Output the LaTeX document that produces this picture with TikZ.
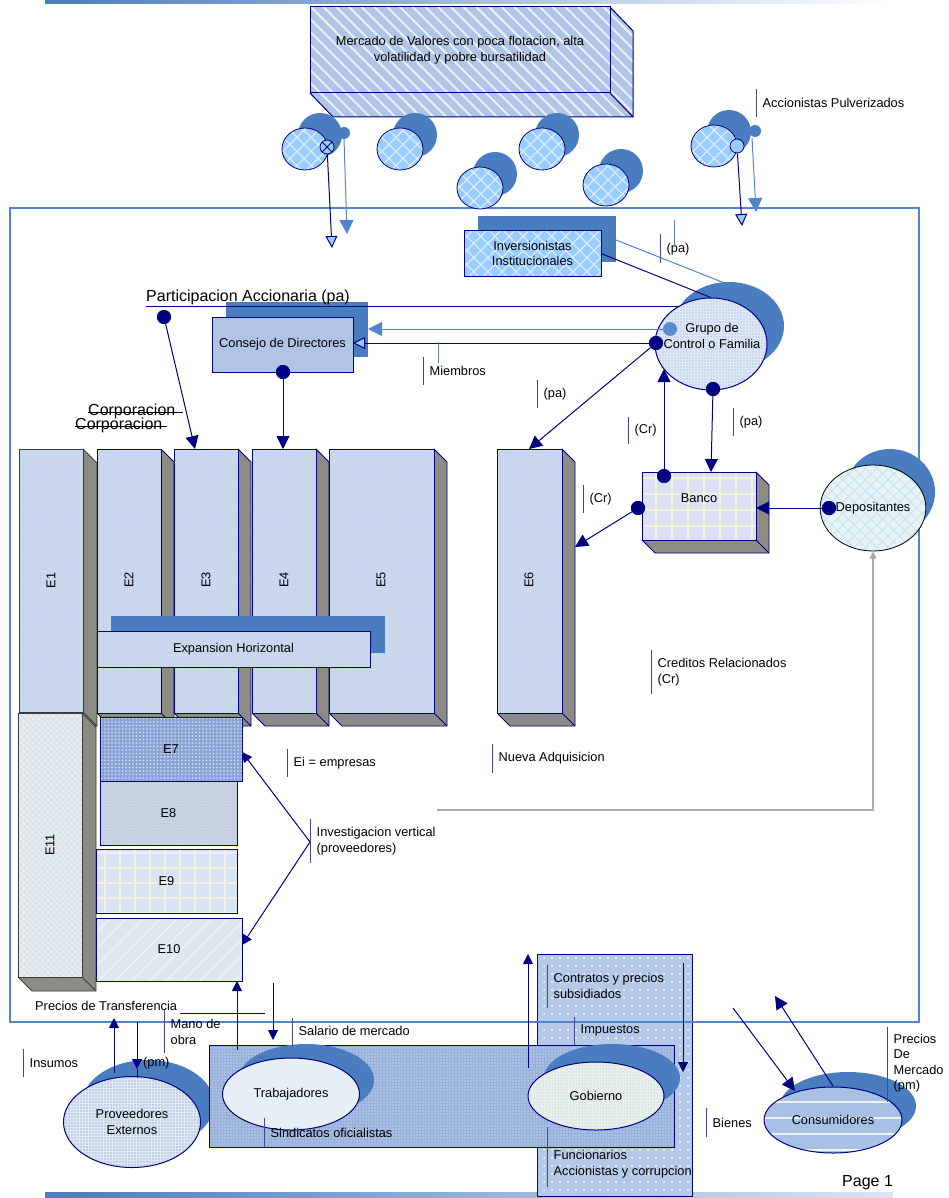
\documentclass[tikz,border=0pt]{standalone}
\usepackage{fontspec}
\setmainfont{Liberation Sans}
\usetikzlibrary{arrows.meta,patterns.meta,shapes.geometric}
\definecolor{navy}{RGB}{0,0,128}
\definecolor{blobblue}{RGB}{74,124,192}
\definecolor{frameblue}{RGB}{84,132,204}
\definecolor{lightarr}{RGB}{84,132,204}
\definecolor{lightdot}{RGB}{90,140,210}
\definecolor{iconfill}{RGB}{153,204,255}
\definecolor{steel}{RGB}{176,196,230}
\definecolor{eboxfill}{RGB}{198,212,236}
\definecolor{sidegrey}{RGB}{140,140,132}
\definecolor{eseven}{RGB}{138,164,214}
\definecolor{eeight}{RGB}{196,208,226}
\definecolor{enine}{RGB}{218,226,244}
\definecolor{cream}{RGB}{242,242,222}
\definecolor{eten}{RGB}{222,232,236}
\definecolor{eeleven}{RGB}{220,228,234}
\definecolor{bancofill}{RGB}{220,226,244}
\definecolor{grupofill}{RGB}{222,232,246}
\definecolor{depofill}{RGB}{230,244,250}
\definecolor{provfill}{RGB}{222,232,242}
\definecolor{paleell}{RGB}{232,238,246}
\definecolor{gobfill}{RGB}{232,240,238}
\definecolor{densefill}{RGB}{150,176,218}
\definecolor{tallfill}{RGB}{180,200,232}
\definecolor{consfill}{RGB}{168,192,228}
\definecolor{barA}{RGB}{70,70,150}
\definecolor{barB}{RGB}{80,80,80}
\definecolor{greyarr}{RGB}{170,170,170}
\definecolor{darkout}{RGB}{60,60,60}

\newcommand\RectNode[7]{%
  \pgfmathsetmacro\rnw{#4-#2}%
  \pgfmathsetmacro\rnh{#5-#3}%
  \node[#6, minimum width=\rnw pt, minimum height=\rnh pt, inner sep=0pt, outer sep=0pt] (#1) at ({(#2+#4)/2},{(#3+#5)/2}) {#7};}
\newcommand\SideFaces[6]{%
  \filldraw[fill=sidegrey, draw=#6, line width=0.8pt, line join=round] (#3,#2) -- ({#3+#5},{#2+#5}) -- ({#3+#5},{#4+#5}) -- ({#1+#5},{#4+#5}) -- (#1,#4) -- (#3,#4) -- cycle;
  \draw[#6, line width=0.8pt] (#3,#4) -- ({#3+#5},{#4+#5});}
\newcommand\BarLabel[7]{%
  \draw[#5, line width=1pt] (#2,#3) -- (#2,#4);
  \node[lbl] (#1) at ({#2+6.5},#6) {#7};}
\newcommand\IconBlob[3]{%
  \fill[blobblue] ({#1+15},{#2-14}) circle (22pt);
  \node[ellipse, draw=navy, line width=0.8pt, minimum width=46pt, minimum height=42pt, inner sep=0pt, iconpat] (#3) at (#1,#2) {};}

\begin{document}
\begin{tikzpicture}[x=1pt,y=-1pt, font=\fontsize{12.8}{15.5}\selectfont,
  lbl/.style={anchor=west, inner sep=0pt, align=left, text=black},
  big/.style={font=\fontsize{16}{19}\selectfont},
  arrN/.style={draw=navy, line width=1pt, -{Triangle[length=13pt,width=13pt]}},
  arrS/.style={draw=navy, line width=1pt, -{Triangle[length=10pt,width=10pt]}},
  arrO/.style={draw=navy, line width=1pt, -{Triangle[length=12pt,width=12pt,fill=iconfill]}},
  arrL/.style={draw=lightarr, line width=1pt, -{Triangle[length=14pt,width=14pt]}},
  dotN/.style={circle, fill=navy, minimum size=14pt, inner sep=0pt, outer sep=0pt},
  dotL/.style={circle, fill=lightdot, minimum size=14pt, inner sep=0pt, outer sep=0pt},
  hatchbox/.style={preaction={fill=steel}, pattern={Lines[angle=-45,distance=9pt,line width=2pt]}, pattern color=white!75!steel},
  iconpat/.style={preaction={fill=iconfill}, pattern={Hatch[angle=45,distance=10pt,line width=1.2pt]}, pattern color=white!65!iconfill},
  edots/.style={preaction={fill=eboxfill}, pattern={Dots[distance=3pt,radius=0.6pt]}, pattern color=white!60!eboxfill},
  e7pat/.style={preaction={fill=eseven}, pattern={Dots[distance=3.5pt,radius=0.8pt]}, pattern color=white!70!eseven},
  e8pat/.style={preaction={fill=eeight}, pattern={Dots[distance=3pt,radius=0.5pt]}, pattern color=white!60!eeight},
  e9pat/.style={preaction={fill=enine}, pattern={Hatch[angle=0,distance=15pt,line width=2pt]}, pattern color=cream},
  e10pat/.style={preaction={fill=eten}, pattern={Lines[angle=45,distance=12pt,line width=1pt]}, pattern color=white!60!eten},
  e11pat/.style={preaction={fill=eeleven}, pattern={Hatch[angle=45,distance=4pt,line width=0.5pt]}, pattern color=white!50!eeleven},
  bancopat/.style={preaction={fill=bancofill}, pattern={Hatch[angle=0,distance=16pt,line width=2pt]}, pattern color=cream},
  grupopat/.style={preaction={fill=grupofill}, pattern={Dots[distance=3pt,radius=0.7pt]}, pattern color={rgb,255:red,140;green,165;blue,210}},
  depopat/.style={preaction={fill=depofill}, pattern={Hatch[angle=45,distance=8pt,line width=1pt]}, pattern color={rgb,255:red,205;green,228;blue,238}},
  provpat/.style={preaction={fill=provfill}, pattern={Dots[distance=3pt,radius=0.6pt]}, pattern color={rgb,255:red,110;green,130;blue,180}},
  gobpat/.style={preaction={fill=gobfill}, pattern={Dots[distance=3pt,radius=0.5pt]}, pattern color=gray!60},
  densepat/.style={preaction={fill=densefill}, pattern={Dots[distance=3pt,radius=0.7pt]}, pattern color=white!85!densefill},
  tallpat/.style={preaction={fill=tallfill}, pattern={Dots[distance=8pt,radius=1pt]}, pattern color=white},
  conspat/.style={preaction={fill=consfill}, pattern={Lines[angle=0,distance=16pt,line width=2pt]}, pattern color=white!80!consfill}
]
\useasboundingbox (0,0) rectangle (948,1198);

% gradient bars
\shade[left color=blobblue, right color=white] (45,0) rectangle (896,4);
\shade[left color=blobblue, right color=blobblue!20] (45,1192) rectangle (893,1198);

% tall government column (behind frame)
\RectNode{tall}{537}{954}{692}{1196}{draw=navy,line width=1pt,tallpat}{}

% main frame
\RectNode{frame}{10}{208}{919}{1022}{draw=frameblue,line width=1.5pt}{}

% Mercado de Valores (3D)
\path[hatchbox, draw=navy, line width=1pt, line join=round] (610,7) -- (633,31) -- (633,117) -- (333,117) -- (310,93) -- cycle;
\RectNode{merc}{310}{7}{610}{93}{hatchbox,draw=navy,line width=1pt,align=center}{Mercado de Valores con poca flotacion, alta\\volatilidad y pobre bursatilidad}
\draw[navy,line width=1pt] (merc.south east) -- (633,117);

% shareholder icons
\IconBlob{305}{149}{ic1}
\IconBlob{400}{149}{ic2}
\IconBlob{542}{149}{ic3}
\IconBlob{480}{188}{ic4}
\IconBlob{606}{185}{ic5}
\IconBlob{714}{146}{ic6}
\fill[blobblue] (344,133) circle (6pt);
\fill[blobblue] (755,131) circle (6pt);
\node[circle, draw=navy, fill=iconfill, line width=0.8pt, minimum size=14pt, inner sep=0pt] (ic1x) at (327,147) {};
\draw[navy,line width=0.8pt] (ic1x.north west) -- (ic1x.south east) (ic1x.north east) -- (ic1x.south west);
\node[circle, draw=navy, fill=iconfill, line width=0.8pt, minimum size=14pt, inner sep=0pt] (ic6x) at (737,146) {};
\coordinate (ic1t) at (332,248);
\coordinate (ic1s) at (344,139);
\coordinate (ic1u) at (347,234);
\draw[arrO] (ic1x) -- (ic1t);
\draw[arrL] (ic1s) -- (ic1u);
\coordinate (ic6t) at (742,226);
\coordinate (ic6s) at (752,138);
\coordinate (ic6u) at (756,212);
\draw[arrO] (ic6x) -- (ic6t);
\draw[arrL] (ic6s) -- (ic6u);
\BarLabel{lacc}{756}{89}{117}{barB}{103}{Accionistas Pulverizados}

% Inversionistas Institucionales
\fill[blobblue] (478,216) rectangle (616,262);
\RectNode{inv}{464}{231}{601}{276}{draw=navy,line width=1pt,iconpat,align=center}{Inversionistas\\Institucionales}
\coordinate (invR) at (616,240);
\coordinate (gbtop) at (727,284);
\draw[lightarr, line width=1pt] (invR) -- (gbtop);

% Grupo de Control o Familia
\fill[blobblue] (729,326) ellipse [x radius=55pt, y radius=44pt];
\node[ellipse, draw=navy, line width=1pt, minimum width=112pt, minimum height=92pt, inner sep=0pt, grupopat] (grupo) at (711,344) {};
\node[align=center, inner sep=0pt] (grupoT) at (712,336) {Grupo de\\Control o Familia};
\draw[navy, line width=1pt] (inv.east) -- (grupo.north);
\BarLabel{lpa1}{660}{234}{263}{barA}{249}{(pa)}
\draw[lightarr, line width=1pt] (674,220) -- (674,247);

% Consejo de Directores
\fill[blobblue] (226,302) rectangle (368,357);
\RectNode{consejo}{212}{317}{353}{372}{draw=navy,line width=1pt,fill=steel}{Consejo de Directores}
\node[lbl, big] (partic) at (146,297) {Participacion Accionaria (pa)};
\coordinate (ulS) at (146,306);
\coordinate (ulE) at (680,306);
\draw[navy, line width=1pt] (ulS) -- (ulE);
\node[dotL] (gdL) at (670,329) {};
\node[dotN] (gdN) at (656,343) {};
\node[dotN] (gdB) at (713,389) {};
\coordinate (cbk) at (368,329);
\draw[arrL] (gdL) -- (cbk);
\draw[arrO] (gdN) -- (consejo.east |- gdN);
\BarLabel{lmiem}{423}{357}{385}{barB}{371}{Miembros}
\draw[lightarr, line width=1pt] (438,342) -- (438,363);

% Corporacion (struck)
\node[lbl, big] (corp1) at (88,411) {Corporacion};
\node[lbl, big] (corp2) at (75,425) {Corporacion};
\draw[black, line width=0.9pt] (88,412) -- (183,412);
\draw[black, line width=0.9pt] (75,426) -- (167,426);

% E boxes
\SideFaces{19}{449}{83}{712}{14}{darkout}
\RectNode{e1}{19}{449}{83}{712}{draw=darkout,line width=0.8pt,edots}{}
\node[rotate=90] (e1l) at (e1) {E1};
\SideFaces{97}{449}{161}{713}{13}{navy}
\RectNode{e2}{97}{449}{161}{713}{draw=navy,line width=0.8pt,edots}{}
\node[rotate=90] (e2l) at (129,580) {E2};
\SideFaces{174}{449}{238}{713}{13}{navy}
\RectNode{e3}{174}{449}{238}{713}{draw=navy,line width=0.8pt,edots}{}
\node[rotate=90] (e3l) at (206,580) {E3};
\SideFaces{252}{449}{316}{713}{13}{navy}
\RectNode{e4}{252}{449}{316}{713}{draw=navy,line width=0.8pt,edots}{}
\node[rotate=90] (e4l) at (284,580) {E4};
\SideFaces{329}{449}{434}{713}{13}{navy}
\RectNode{e5}{329}{449}{434}{713}{draw=navy,line width=0.8pt,edots}{}
\node[rotate=90] (e5l) at (381,580) {E5};
\SideFaces{497}{449}{562}{713}{13}{navy}
\RectNode{e6}{497}{449}{562}{713}{draw=navy,line width=0.8pt,edots}{}
\node[rotate=90] (e6l) at (529,580) {E6};

% Expansion Horizontal
\fill[blobblue] (111,616) rectangle (385,653);
\RectNode{exp}{97}{631}{370}{667}{draw=navy,line width=1pt,edots}{Expansion Horizontal}

% E11 and E7-E10
\SideFaces{18}{713}{82}{977}{14}{darkout}
\RectNode{e11}{18}{713}{82}{977}{draw=darkout,line width=0.8pt,e11pat}{}
\node[rotate=90] (e11l) at (50,845) {E11};
\RectNode{e7}{100}{717}{242}{781}{draw=navy,line width=1pt,e7pat}{E7}
\RectNode{e8}{100}{781}{237}{845}{draw=navy,line width=1pt,e8pat}{E8}
\RectNode{e9}{96}{849}{237}{913}{draw=navy,line width=1pt,e9pat}{E9}
\RectNode{e10}{96}{918}{242}{981}{draw=navy,line width=1pt,e10pat}{E10}

% arrows into E3, E4
\node[dotN] (dP) at (164,317) {};
\node[dotN] (dC) at (283,372) {};
\coordinate (tE3) at (195,449);
\coordinate (tE4) at (283,449);
\draw[arrN] (dP) -- (tE3);
\draw[arrN] (dC) -- (tE4);
\node[dotN] at (164,317) {};
\node[dotN] at (283,372) {};

% Banco
\SideFaces{642}{472}{756}{540}{13}{navy}
\RectNode{banco}{642}{472}{756}{540}{draw=navy,line width=1pt,bancopat}{}
\node (bancoT) at (699,498) {Banco};

% Depositantes
\fill[blobblue] (890,492) ellipse [x radius=45pt, y radius=43pt];
\node[ellipse, draw=black, line width=0.8pt, minimum width=90pt, minimum height=86pt, inner sep=0pt, depopat] (depo) at (873,508) {Depositantes};

% credit / ownership arrows
\node[dotN] (dBt) at (664,476) {};
\node[dotN] (dBl) at (638,508) {};
\node[dotN] (dD) at (829,508) {};
\coordinate (tG) at (664,369);
\coordinate (tB) at (711,472);
\coordinate (tE6s) at (575,547);
\coordinate (tE6t) at (529,449);
\coordinate (tBr) at (756,508);
\draw[arrN] (dBt) -- (tG);
\draw[arrN] (gdB) -- (tB);
\draw[arrN] (dBl) -- (tE6s);
\draw[arrN] (gdN) -- (tE6t);
\draw[arrN] (dD) -- (tBr);
\node[dotN] at (656,343) {};
\node[dotN] at (713,389) {};
\node[dotN] at (664,476) {};
\node[dotN] at (638,508) {};
\node[dotN] at (829,508) {};
\BarLabel{lpa2}{537}{380}{408}{barA}{394}{(pa)}
\BarLabel{lcr1}{628}{417}{444}{barA}{430}{(Cr)}
\BarLabel{lpa3}{733}{408}{436}{barB}{422}{(pa)}
\BarLabel{lcr2}{583}{485}{513}{barA}{499}{(Cr)}
\BarLabel{lcred}{651}{650}{694}{barA}{672}{Creditos Relacionados\\(Cr)}
\BarLabel{lnueva}{492}{744}{773}{barA}{758}{Nueva Adquisicion}
\BarLabel{lei}{287}{749}{777}{barA}{763}{Ei = empresas}

% grey connector
\coordinate (gS) at (437,810);
\coordinate (gC) at (873,810);
\draw[greyarr, line width=1.2pt, -{Triangle[length=7pt,width=7pt]}] (gS) -- (gC) -- (depo.south);

% Investigacion vertical
\coordinate (iv) at (310,842);
\coordinate (t7) at (242,752);
\coordinate (t10) at (242,945);
\draw[arrS] (iv) -- (t7);
\draw[arrS] (iv) -- (t10);
\BarLabel{linv}{310}{819}{863}{barA}{841}{Investigacion vertical\\(proveedores)}

% bottom: Proveedores
\node[lbl] (ptrans) at (35,1006) {Precios de Transferencia};
\coordinate (hl1) at (180,1013);
\coordinate (hl2) at (265,1013);
\draw[navy, line width=1pt] (hl1) -- (hl2);
\BarLabel{lmano}{164}{1010}{1053}{barA}{1032}{Mano de\\obra}
\BarLabel{lins}{23}{1049}{1077}{barB}{1063}{Insumos}
\fill[blobblue] (148,1104) ellipse [x radius=66pt, y radius=44pt];
\node[ellipse, draw=navy, line width=1pt, minimum width=137pt, minimum height=91pt, inner sep=0pt, align=center, provpat] (prov) at (132,1122) {Proveedores\\Externos};
\coordinate (pu1) at (114,1073);
\coordinate (pu2) at (114,1018);
\coordinate (pd1) at (137,1022);
\coordinate (pd2) at (137,1069);
\coordinate (pd3) at (137,1078);
\draw[arrS] (pu1) -- (pu2);
\draw[arrS] (pd1) -- (pd2);
\draw[navy, line width=1pt] (pd2) -- (pd3);
\node[lbl] (lpm) at (143,1063) {(pm)};

% workers / government band
\RectNode{work}{209}{1045}{674}{1147}{draw=navy,line width=1pt,densepat}{}
\fill[blobblue] (306,1080) ellipse [x radius=68pt, y radius=36pt];
\node[ellipse, draw=navy, line width=1pt, fill=paleell, minimum width=137pt, minimum height=72pt, inner sep=0pt] (trab) at (291,1094) {Trabajadores};
\fill[blobblue] (612,1078) ellipse [x radius=68pt, y radius=34pt];
\node[ellipse, draw=navy, line width=1pt, minimum width=136pt, minimum height=68pt, inner sep=0pt, gobpat] (gob) at (596,1096) {Gobierno};

\coordinate (wu1) at (237,1050);
\coordinate (wd1) at (273,983);
\coordinate (wd2) at (273,1040);
\coordinate (gu1) at (528,1068);
\coordinate (gu2) at (528,954);
\coordinate (gd1) at (683,963);
\coordinate (gd2) at (683,1072);
\draw[arrS] (wu1) -- (e10.south -| wu1);
\draw[arrS] (wd1) -- (wd2);
\draw[arrS] (gu1) -- (gu2);
\draw[arrS] (gd1) -- (gd2);
\BarLabel{lsal}{292}{1018}{1047}{barB}{1031}{Salario de mercado}
\BarLabel{lsin}{264}{1118}{1147}{barA}{1133}{Sindicatos oficialistas}
\BarLabel{lcon}{547}{965}{1008}{barA}{986}{Contratos y precios\\subsidiados}
\BarLabel{limp}{574}{1017}{1045}{barA}{1030}{Impuestos}
\BarLabel{lfun}{547}{1127}{1187}{barA}{1164}{Funcionarios\\Accionistas y corrupcion}
\BarLabel{lbie}{706}{1108}{1137}{barA}{1123}{Bienes}

% Consumidores
\fill[blobblue] (848,1106) ellipse [x radius=68pt, y radius=34pt];
\node[ellipse, draw=navy, line width=1pt, minimum width=138pt, minimum height=66pt, inner sep=0pt, conspat] (consu) at (833,1120) {Consumidores};
\coordinate (ca1) at (733,1008);
\coordinate (ca2) at (795,1091);
\coordinate (cb1) at (833,1086);
\coordinate (cb2) at (775,996);
\draw[arrN] (ca1) -- (ca2);
\draw[arrN] (cb1) -- (cb2);
\BarLabel{lpm2}{887}{1027}{1102}{barB}{1063}{Precios\\De\\Mercado\\(pm)}

\node[lbl, big] (pg) at (842,1183) {Page 1};
\end{tikzpicture}
\end{document}
